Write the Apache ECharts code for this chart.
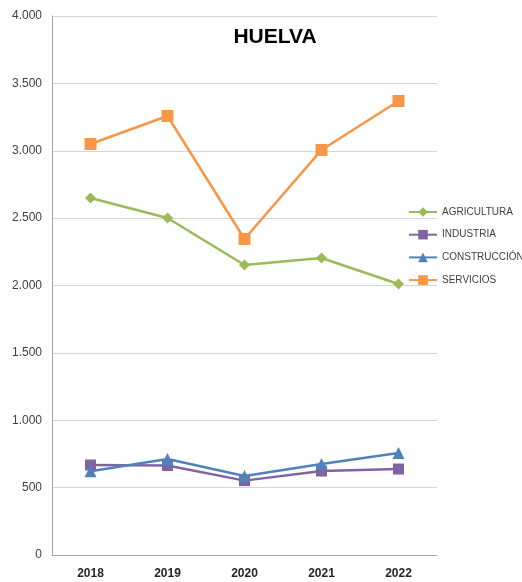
<!DOCTYPE html>
<html>
<head>
<meta charset="utf-8">
<script src="https://cdn.jsdelivr.net/npm/echarts@6/dist/echarts.min.js"></script>
<style>
html,body{margin:0;padding:0;background:#fff;}
#chart{width:522px;height:582px;}
</style>
</head>
<body>
<div id="chart"></div>
<script>
// datos
var years = ['2018', '2019', '2020', '2021', '2022'];
var agricultura = [2649, 2501, 2152, 2204, 2011];
var industria = [668, 664, 552, 623, 638];
var construccion = [622, 712, 586, 675, 757];
var servicios = [3050, 3258, 2345, 3006, 3369];

var myChart = echarts.init(document.getElementById('chart'));

function fmt(v){
    // separador de miles con punto
    return String(v).replace(/\B(?=(\d{3})+(?!\d))/g, '.');
}

var option = {
    backgroundColor: '#ffffff',
    animation: false,
    textStyle: {fontFamily: 'Liberation Sans'},
    title: {
        text: 'HUELVA',
        left: 270,
        top: 22,
        textAlign: 'center',
        textStyle: {fontSize: 21, fontWeight: 'bold', color: '#000'}
    },
    legend: {
        orient: 'vertical',
        left: 403,
        top: 201,
        itemWidth: 28,
        itemHeight: 12,
        itemGap: 10.7,
        textStyle: {fontSize: 10, color: '#404040', lineHeight: 12},
        data: ['AGRICULTURA', 'INDUSTRIA', 'CONSTRUCCIÓN', 'SERVICIOS']
    },
    grid: {left: 52, right: 85, top: 16, bottom: 27, containLabel: false},
    xAxis: {
        type: 'category',
        data: years,
        boundaryGap: true,
        axisLine: {lineStyle: {color: '#a6a6a6'}},
        axisTick: {show: false},
        axisLabel: {fontSize: 12, fontWeight: 'bold', color: '#262626', margin: 13}
    },
    yAxis: {
        type: 'value',
        min: 0,
        max: 4000,
        interval: 500,
        axisLine: {show: true, lineStyle: {color: '#a6a6a6'}},
        axisTick: {show: false},
        splitLine: {lineStyle: {color: '#d4d4d4'}},
        axisLabel: {fontSize: 12, color: '#404040', margin: 10, formatter: fmt}
    },
    series: [
        {
            name: 'AGRICULTURA', type: 'line', data: agricultura,
            symbol: 'diamond', symbolSize: 11,
            lineStyle: {width: 2.5, color: '#9bbb59'},
            itemStyle: {color: '#9bbb59'}
        },
        {
            name: 'INDUSTRIA', type: 'line', data: industria,
            symbol: 'rect', symbolSize: 11,
            lineStyle: {width: 2.5, color: '#8064a2'},
            itemStyle: {color: '#8064a2'}
        },
        {
            name: 'CONSTRUCCIÓN', type: 'line', data: construccion,
            symbol: 'triangle', symbolSize: 12,
            lineStyle: {width: 2.5, color: '#4f81bd'},
            itemStyle: {color: '#4f81bd'}
        },
        {
            name: 'SERVICIOS', type: 'line', data: servicios,
            symbol: 'rect', symbolSize: 12,
            lineStyle: {width: 2.5, color: '#f79646'},
            itemStyle: {color: '#f79646'}
        }
    ]
};
myChart.setOption(option);
</script>
</body>
</html>
